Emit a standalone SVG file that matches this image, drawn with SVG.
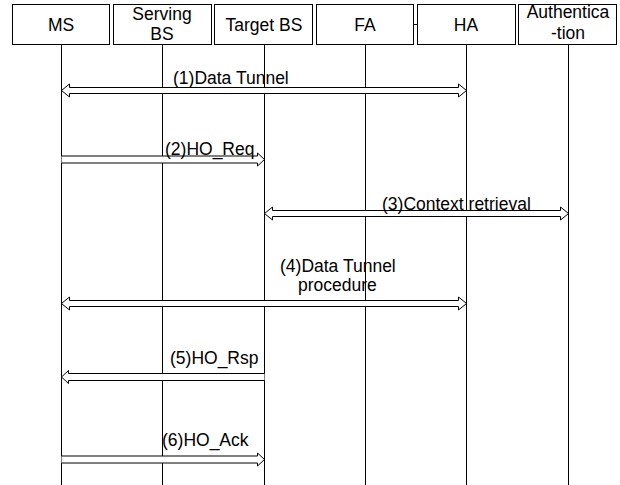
<svg xmlns="http://www.w3.org/2000/svg" width="620" height="485" viewBox="0 0 620 485">
<style>
.box{fill:#fff;stroke:#000;stroke-width:1}
.life{stroke:#000;stroke-width:1;fill:none}
.arr{fill:#fff;stroke:#000;stroke-width:1;stroke-linejoin:miter}
text{font-family:"Liberation Sans",Arial,sans-serif;font-size:17.5px;fill:#000}
.c{text-anchor:middle}
</style>
<rect width="620" height="485" fill="#fff"/>
<g id="lifelines">
<line class="life" x1="61.5" y1="44" x2="61.5" y2="485"/>
<line class="life" x1="162.5" y1="44" x2="162.5" y2="485"/>
<line class="life" x1="264.5" y1="44" x2="264.5" y2="485"/>
<line class="life" x1="365.5" y1="44" x2="365.5" y2="485"/>
<line class="life" x1="466.5" y1="44" x2="466.5" y2="485"/>
<line class="life" x1="568.5" y1="44" x2="568.5" y2="485"/>
<line class="life" x1="414" y1="24.5" x2="417" y2="24.5"/>
</g>
<g id="node-ms"><rect class="box" x="12.5" y="4.5" width="97" height="40"/><text class="c" x="61" y="31">MS</text></g>
<g id="node-serving"><rect class="box" x="113.5" y="4.5" width="98" height="40"/><text class="c" x="162" y="20">Serving</text><text class="c" x="162" y="40">BS</text></g>
<g id="node-target"><rect class="box" x="214.5" y="4.5" width="98" height="40"/><text class="c" x="264" y="31">Target BS</text></g>
<g id="node-fa"><rect class="box" x="316.5" y="4.5" width="97" height="40"/><text class="c" x="365" y="31">FA</text></g>
<g id="node-ha"><rect class="box" x="417.5" y="4.5" width="98" height="40"/><text class="c" x="466" y="31">HA</text></g>
<g id="node-auth"><rect class="box" x="518.5" y="4.5" width="98" height="40"/><text class="c" x="568" y="18">Authentica</text><text class="c" x="568" y="39">-tion</text></g>
<g id="connectors">
<path class="arr" d="M61.5,90.5 L69.5,84 L69.5,87.5 L458.5,87.5 L458.5,84 L466.5,90.5 L458.5,97 L458.5,93.5 L69.5,93.5 L69.5,97 Z"/>
<path class="arr" d="M61.5,156 L257.5,156 L257.5,153 L264.5,159.5 L257.5,166 L257.5,163 L61.5,163"/>
<path class="arr" d="M264.5,213.5 L272.5,207 L272.5,210.5 L560.5,210.5 L560.5,207 L568.5,213.5 L560.5,220 L560.5,216.5 L272.5,216.5 L272.5,220 Z"/>
<path class="arr" d="M61.5,303.5 L69.5,297 L69.5,300.5 L458.5,300.5 L458.5,297 L466.5,303.5 L458.5,310 L458.5,306.5 L69.5,306.5 L69.5,310 Z"/>
<path class="arr" d="M264.5,373.5 L68.5,373.5 L68.5,370.5 L61.5,377 L68.5,383.5 L68.5,380.5 L264.5,380.5"/>
<path class="arr" d="M61.5,456 L257.5,456 L257.5,453 L264.5,459.5 L257.5,466 L257.5,463 L61.5,463"/>
</g>
<g id="labels">
<text x="173" y="84">(1)Data Tunnel</text>
<text x="165" y="155">(2)HO_Req</text>
<text x="382" y="210">(3)Context retrieval</text>
<text x="280" y="272">(4)Data Tunnel</text>
<text x="298" y="291">procedure</text>
<text x="170" y="364">(5)HO_Rsp</text>
<text x="162" y="446">(6)HO_Ack</text>
</g>
</svg>
